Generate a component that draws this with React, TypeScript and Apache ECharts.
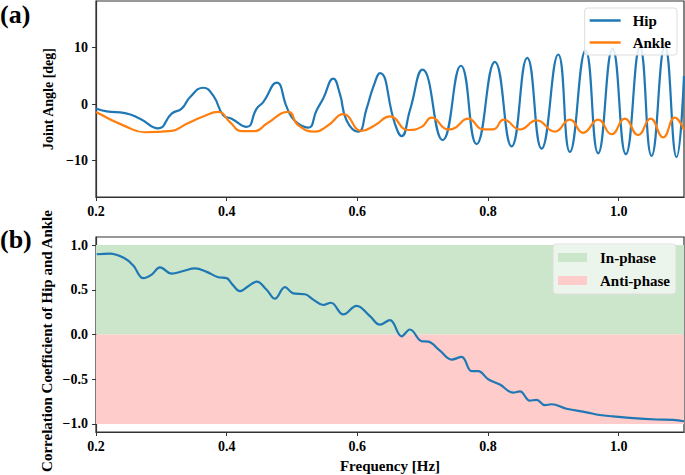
import React, { useEffect, useRef } from "react";
import * as echarts from "echarts";

// Panel (a): joint angle vs frequency
const hipFreq = [0.2, 0.2164, 0.2444, 0.2673, 0.2953, 0.3158, 0.3311, 0.3438, 0.3642, 0.3795, 0.3948, 0.4076, 0.4306, 0.4459, 0.456, 0.4765, 0.4918, 0.4995, 0.5096, 0.5249, 0.5377, 0.5478, 0.5631, 0.5733, 0.5836, 0.6013, 0.6142, 0.6243, 0.6346, 0.6575, 0.6678, 0.6805, 0.6999, 0.7305, 0.7585, 0.7825, 0.8105, 0.8361, 0.86, 0.882, 0.9074, 0.9253, 0.9493, 0.9686, 0.9906, 1.011, 1.0324, 1.0503, 1.0707, 1.0886, 1.1];
const hipAngle = [-0.8, -1.3, -1.6, -2.6, -4.3, -1.7, -0.8, 1.2, 2.9, 1.5, -2.0, -2.6, -4.05, -0.8, 0.35, 3.8, -0.5, -2.3, -3.5, -4.2, -1.1, 1.0, 4.5, 1.8, -2.9, -4.9, -0.8, 3.0, 5.5, -3.5, -5.7, -1.1, 6.1, -6.4, 6.8, -7.1, 7.5, -7.5, 8.2, -7.9, 8.8, -8.5, 9.5, -8.75, 9.8, -8.9, 10.1, -9.2, 10.3, -9.4, 5.0];
const ankleFreq = [0.2, 0.247, 0.275, 0.3158, 0.3388, 0.3642, 0.3871, 0.405, 0.4229, 0.4433, 0.4612, 0.4942, 0.5096, 0.5351, 0.5555, 0.5784, 0.6066, 0.6269, 0.6499, 0.6779, 0.6984, 0.7137, 0.7391, 0.7463, 0.7697, 0.7926, 0.8079, 0.8243, 0.8488, 0.8743, 0.9023, 0.9253, 0.9456, 0.9686, 0.9891, 1.0094, 1.0298, 1.0488, 1.0681, 1.0859, 1.1];
const ankleAngle = [-1.4, -4.05, -5.0, -4.75, -3.5, -2.2, -1.4, -3.2, -4.8, -4.8, -3.5, -1.4, -3.76, -4.9, -3.76, -1.8, -4.75, -3.76, -2.2, -4.6, -4.05, -2.4, -4.5, -4.4, -2.6, -4.5, -4.5, -2.75, -4.5, -2.9, -4.9, -2.75, -5.1, -2.75, -5.35, -2.6, -5.5, -2.6, -5.9, -2.4, -4.6];

// Panel (b): correlation coefficient vs frequency
const corrFreq = [0.2011, 0.2214, 0.2444, 0.2571, 0.2724, 0.2852, 0.2979, 0.3158, 0.3336, 0.3515, 0.3694, 0.3871, 0.4, 0.4086, 0.4203, 0.433, 0.4459, 0.4612, 0.4739, 0.4892, 0.5019, 0.5198, 0.5325, 0.5478, 0.5596, 0.5784, 0.5989, 0.6193, 0.6346, 0.6499, 0.6678, 0.6805, 0.6984, 0.7085, 0.7264, 0.7443, 0.7596, 0.7749, 0.785, 0.8003, 0.8182, 0.8385, 0.8488, 0.8641, 0.8743, 0.887, 0.8973, 0.9202, 0.9508, 0.9712, 0.9916, 1.0222, 1.0579, 1.0834, 1.1];
const corrValue = [0.897, 0.905, 0.85, 0.77, 0.63, 0.67, 0.75, 0.68, 0.71, 0.74, 0.7, 0.64, 0.63, 0.56, 0.485, 0.54, 0.59, 0.5, 0.4, 0.53, 0.46, 0.45, 0.39, 0.33, 0.355, 0.225, 0.32, 0.205, 0.11, 0.16, -0.02, 0.056, -0.075, -0.08, -0.18, -0.28, -0.25, -0.41, -0.41, -0.5, -0.56, -0.65, -0.635, -0.74, -0.73, -0.79, -0.78, -0.83, -0.87, -0.9, -0.915, -0.935, -0.95, -0.955, -0.97];

const freqTicks = [0.2, 0.4, 0.6, 0.8, 1.0];
const angleTicks = [-10, 0, 10];
const corrTicks = [-1.0, -0.5, 0.0, 0.5, 1.0];
const inPhaseBand = [0, 1];
const antiPhaseBand = [-1, 0];

const FONT = "Liberation Serif";
const fmtMinus = (s: string) => s.replace("-", "\u2212");

export default function App() {
  const ref = useRef<HTMLDivElement>(null);
  useEffect(() => {
    if (!ref.current) return;
    const chart = echarts.init(ref.current, undefined, { renderer: "svg" });
    const axisLabelBase = {
      fontFamily: FONT,
      fontWeight: "bold" as const,
      fontSize: 14,
      color: "#000",
    };
    const xAxisCommon = (gridIndex: number, withName: boolean) => ({
      type: "value" as const,
      gridIndex,
      min: 0.2,
      max: 1.1,
      splitLine: { show: false },
      axisLine: { show: true, onZero: false, lineStyle: { color: "#333", width: 1.2 } },
      axisTick: { show: true, length: 4, customValues: freqTicks, lineStyle: { color: "#333" } },
      axisLabel: {
        ...axisLabelBase,
        margin: 7,
        customValues: freqTicks,
        formatter: (v: number) => v.toFixed(1),
      },
      name: withName ? "Frequency [Hz]" : "",
      nameLocation: "middle" as const,
      nameGap: 26,
      nameTextStyle: { fontFamily: FONT, fontWeight: "bold" as const, fontSize: 15, color: "#000" },
    });
    chart.setOption({
      animation: false,
      backgroundColor: "#fff",
      grid: [
        { left: 96, right: 1, top: 1, height: 196, show: true, borderColor: "#333", borderWidth: 1.2, backgroundColor: "transparent" },
        { left: 96, right: 1, top: 237, height: 195, show: true, borderColor: "#333", borderWidth: 1.2, backgroundColor: "transparent" },
      ],
      xAxis: [xAxisCommon(0, false), xAxisCommon(1, true)],
      yAxis: [
        {
          type: "value",
          gridIndex: 0,
          min: -16.5,
          max: 18.3,
          splitLine: { show: false },
          axisLine: { show: true, onZero: false, lineStyle: { color: "#333", width: 1.2 } },
          axisTick: { show: true, length: 4, customValues: angleTicks, lineStyle: { color: "#333" } },
          axisLabel: {
            ...axisLabelBase,
            margin: 8,
            customValues: angleTicks,
            formatter: (v: number) => fmtMinus(String(v)),
          },
          name: "Joint Angle [deg]",
          nameLocation: "middle",
          nameGap: 40,
          nameRotate: 90,
          nameTextStyle: { fontFamily: FONT, fontWeight: "bold", fontSize: 14, color: "#000" },
        },
        {
          type: "value",
          gridIndex: 1,
          min: -1.09,
          max: 1.09,
          splitLine: { show: false },
          axisLine: { show: true, onZero: false, lineStyle: { color: "#333", width: 1.2 } },
          axisTick: { show: true, length: 4, customValues: corrTicks, lineStyle: { color: "#333" } },
          axisLabel: {
            ...axisLabelBase,
            margin: 8,
            customValues: corrTicks,
            formatter: (v: number) => fmtMinus(v.toFixed(1)),
          },
        },
      ],
      legend: [
        {
          data: [
            { name: "Hip", icon: "rect" },
            { name: "Ankle", icon: "rect" },
          ],
          orient: "vertical",
          right: 8,
          top: 8,
          itemWidth: 31,
          itemHeight: 2.5,
          itemGap: 7,
          padding: [5, 6, 5, 5],
          backgroundColor: "rgba(255,255,255,0.85)",
          borderColor: "#ddd",
          borderWidth: 1,
          borderRadius: 3,
          textStyle: { fontFamily: FONT, fontWeight: "bold", fontSize: 15, color: "#000", padding: [0, 0, 0, 7] },
        },
        {
          data: [
            { name: "In-phase", icon: "rect" },
            { name: "Anti-phase", icon: "rect" },
          ],
          orient: "vertical",
          right: 9,
          top: 244,
          itemWidth: 29,
          itemHeight: 9,
          itemGap: 8,
          padding: [6, 6, 6, 5],
          backgroundColor: "rgba(255,255,255,0.6)",
          borderColor: "#ddd",
          borderWidth: 1,
          borderRadius: 3,
          textStyle: { fontFamily: FONT, fontWeight: "bold", fontSize: 15, color: "#000", padding: [0, 0, 0, 8] },
        },
      ],
      graphic: [
        { type: "text", left: 0, top: 1, style: { text: "(a)", font: `bold 26px "Liberation Serif"`, fill: "#000" } },
        { type: "text", left: 0, top: 226, style: { text: "(b)", font: `bold 26px "Liberation Serif"`, fill: "#000" } },
        {
          type: "text",
          x: 47,
          y: 341,
          rotation: Math.PI / 2,
          style: {
            text: "Correlation Coefficient of Hip and Ankle",
            font: `bold 15px "Liberation Serif"`,
            fill: "#000",
            align: "center",
            verticalAlign: "middle",
          },
        },
      ],
      series: [
        {
          name: "In-phase",
          type: "line",
          xAxisIndex: 1,
          yAxisIndex: 1,
          data: [],
          color: "#cce6cc",
          symbol: "none",
          markArea: {
            silent: true,
            itemStyle: { color: "#cce6cc" },
            data: [[{ yAxis: inPhaseBand[0] }, { yAxis: inPhaseBand[1] }]],
          },
        },
        {
          name: "Anti-phase",
          type: "line",
          xAxisIndex: 1,
          yAxisIndex: 1,
          data: [],
          color: "#ffcccc",
          symbol: "none",
          markArea: {
            silent: true,
            itemStyle: { color: "#ffcccc" },
            data: [[{ yAxis: antiPhaseBand[0] }, { yAxis: antiPhaseBand[1] }]],
          },
        },
        {
          name: "Hip",
          type: "line",
          xAxisIndex: 0,
          yAxisIndex: 0,
          data: hipFreq.map((f, i) => [f, hipAngle[i]]),
          smooth: 0.5,
          symbol: "none",
          color: "#1f77b4",
          lineStyle: { width: 2.2, color: "#1f77b4" },
          z: 3,
        },
        {
          name: "Ankle",
          type: "line",
          xAxisIndex: 0,
          yAxisIndex: 0,
          data: ankleFreq.map((f, i) => [f, ankleAngle[i]]),
          smooth: 0.5,
          symbol: "none",
          color: "#ff7f0e",
          lineStyle: { width: 2.2, color: "#ff7f0e" },
          z: 4,
        },
        {
          name: "Correlation",
          type: "line",
          xAxisIndex: 1,
          yAxisIndex: 1,
          data: corrFreq.map((f, i) => [f, corrValue[i]]),
          smooth: 0.4,
          symbol: "none",
          color: "#1f77b4",
          lineStyle: { width: 2.2, color: "#1f77b4" },
          z: 3,
        },
      ],
    });
    return () => chart.dispose();
  }, []);
  return <div ref={ref} style={{ width: 685, height: 475, position: "absolute", left: 0, top: 0 }} />;
}
